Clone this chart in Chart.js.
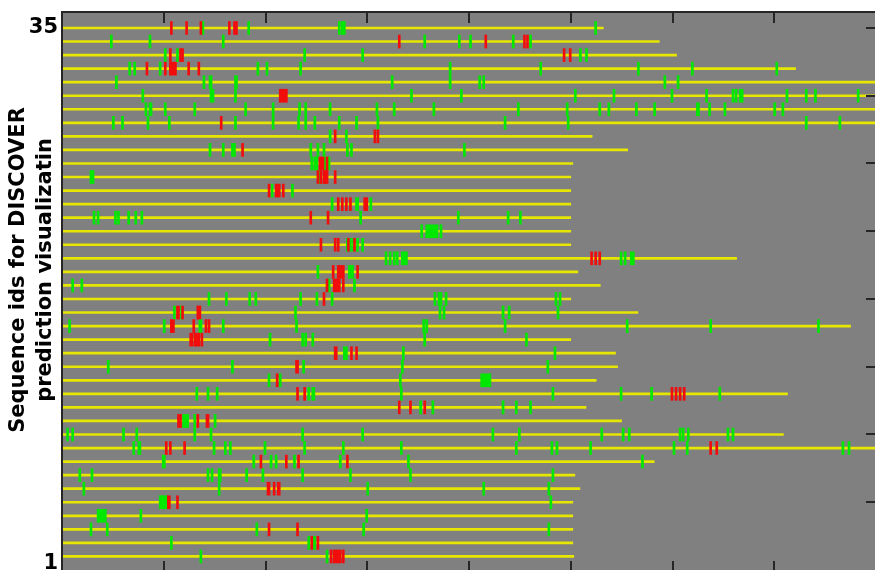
<!DOCTYPE html>
<html>
<head>
<meta charset="utf-8">
<script src="https://cdn.jsdelivr.net/npm/chart.js@4/dist/chart.umd.min.js"></script>
<style>
  html, body { margin: 0; padding: 0; background: #ffffff; overflow: hidden; }
  #wrap { width: 877px; height: 578px; }
</style>
</head>
<body>
<div id="wrap"><canvas id="c" width="877" height="578"></canvas></div>
<script>
// Sequence lengths (residues), sequence 1 at the bottom up to 40 at the top
const seqLengths = [503, 502, 502, 502, 502, 509, 504, 582, 800, 709,
                    550, 515, 713, 525, 546, 544, 500, 775, 566, 500,
                    529, 507, 663, 500, 500, 500, 500, 500, 500, 502,
                    556, 521, 800, 800, 800, 800, 721, 604, 587, 532];

// Predicted sites per sequence: a number is a single residue, a pair is a span
const greenSites = [
  [136, 260],
  [107, 242, [247, 249]],
  [28, 44, 191, 296, 478],
  [35, [37, 43], [77, 78], 299],
  [96, 98, [99, 103], 480],
  [21, 154, 300, 414, 478],
  [17, 29, 143, 147, [154, 156], 181, 197, 236, 283, 342, 482],
  [[99, 101], 188, 205, 210, 228, 273, 340, 570],
  [70, [75, 77], 149, 160, 165, 199, 238, 276, 333, 446, 481, 486, 519, 601, 614, 767, 773],
  [5, 10, 60, 73, 130, 146, 236, 295, 423, 449, 530, 551, 557, 607, 610, 615, 654, 659],
  [119, [121, 124], 130, 150],
  [352, 364, 433, 446, 460],
  [132, 143, 152, 242, [246, 248], 333, 482, 549, 579, 646],
  [203, 214, 332, [412, 421]],
  [45, 167, 237, 334, 477],
  [[277, 280], 335, 484],
  [204, 236, 239, 246, 356, 456],
  [7, 100, [135, 137], 158, 230, 355, 358, 435, 555, 637, 743],
  [110, 117, 229, 371, 375, 433, 439, 487],
  [144, 161, 184, 190, 234, 250, 265, 366, 370, 372, 377, 485, 489],
  [10, 19, 262, 287],
  [251, [282, 286]],
  [318, 322, 326, 329, [334, 339], 549, 553, [559, 562]],
  [280, 283, 286, 290, 295],
  [353, [358, 369], 372],
  [31, 35, 52, 55, 65, 72, 78, 293, 389, 438, 450],
  [265, [289, 291], 303],
  [206, 226],
  [[28, 31], 252],
  [245, 248, 250, 258, 262],
  [145, 158, 167, 169, 244, 251, 257, 280, 284, 395],
  [263, 279],
  [50, 59, 84, 105, 170, 207, 232, 239, 248, 272, 289, 310, 435, 497, 731, 764],
  [82, [86, 88], 101, 130, 180, 207, 233, 239, 263, 309, 326, 365, 448, 496, 528, 537, 564, 582, [624, 626], 636, 651, 700, 708],
  [79, 146, 148, 170, 343, 392, 504, 542, 599, 633, 659, 662, 666, 668, 712, 731, 740, 782],
  [53, 139, [145, 147], [170, 172], 324, 381, 410, 414, 592, 605],
  [66, 71, 96, 192, 201, 234, 381, 470, 566, 619, 702],
  [101, 113, 238, 295, 509, 515],
  [48, 86, 158, 356, 390, 401, 443, 460],
  [138, 183, 272, 275, 277, 524]
];

const redSites = [
  [264, [267, 274], 276],
  [245, 251],
  [203, 231],
  [],
  [[104, 106], 113],
  [[202, 204], 208, [212, 214]],
  [],
  [195, 220, 232, 280],
  [102, 106, 120, 637, 643],
  [],
  [114, 116, 133, [142, 144]],
  [331, 342, 356],
  [231, 238, 599, 603, 607, 611],
  [211],
  [[230, 232]],
  [[268, 270], 284, 289],
  [[126, 128], 130, 132, 134, 137],
  [[107, 110], 129, 141, 144],
  [[113, 115], 118, 133, [134, 136]],
  [257],
  [260, [267, 273], 276],
  [266, [271, 277], 290],
  [520, 524, 528],
  [254, 268, 271, 281, 287],
  [],
  [244, 261],
  [271, 275, 279, 283, 297, 299],
  [203, 210, [212, 214], 217],
  [251, 254, 257, [258, 261], 268],
  [253, [255, 257], 260],
  [177],
  [268, 307, 310],
  [156],
  [],
  [[214, 221]],
  [],
  [83, 101, 106, [108, 112], 124, 134],
  [106, 116, 118, 493, 499],
  [331, 416, 454, 457],
  [107, 122, 136, 164, 169, 171]
];

// Axis ticks
const xTickValues = [100, 200, 300, 400, 500, 600, 700];
const rightTickValues = [5, 10, 15, 20, 25, 30, 35, 40];
const yTickAt = [40, 0.45];
const yTickText = ['35', '1'];
const yTitle = ['Sequence ids for DISCOVER', 'prediction visualizatin'];

function siteBars(sites) {
  const out = [];
  sites.forEach((list, i) => {
    list.forEach(s => {
      const span = Array.isArray(s) ? s : [s, s];
      out.push({ y: i + 1, x: [span[0] - 0.5, span[1] + 0.5] });
    });
  });
  return out;
}

const lineBars = seqLengths.map((len, i) => ({ y: i + 1, x: [0, len] }));

// Gray plot panel, frame and inward ticks, rotated axis title
const framePlugin = {
  id: 'frame',
  beforeDatasetsDraw(chart) {
    const { ctx, chartArea: a } = chart;
    ctx.save();
    ctx.fillStyle = '#808080';
    ctx.fillRect(a.left, a.top, a.right - a.left, a.bottom - a.top);
    ctx.restore();
  },
  afterDatasetsDraw(chart) {
    const { ctx, chartArea: a, scales } = chart;
    const x = scales.x, y = scales.y;
    ctx.save();
    ctx.strokeStyle = '#262626';
    ctx.lineWidth = 2;
    ctx.beginPath();
    ctx.moveTo(a.left, a.top); ctx.lineTo(a.right, a.top);
    ctx.moveTo(a.left, a.top - 1); ctx.lineTo(a.left, a.bottom);
    xTickValues.forEach(v => {
      const px = Math.round(x.getPixelForValue(v));
      ctx.moveTo(px, a.top); ctx.lineTo(px, a.top + 11);
      ctx.moveTo(px, a.bottom); ctx.lineTo(px, a.bottom - 9);
    });
    rightTickValues.forEach(v => {
      const py = Math.round(y.getPixelForValue(v));
      ctx.moveTo(a.right, py); ctx.lineTo(a.right - 10, py);
    });
    ctx.stroke();
    ctx.restore();
  },
  afterDraw(chart) {
    const { ctx } = chart;
    ctx.save();
    ctx.translate(19, 270);
    ctx.rotate(-Math.PI / 2);
    ctx.fillStyle = '#000000';
    ctx.font = 'bold 21px "DejaVu Sans"';
    ctx.textAlign = 'center';
    ctx.textBaseline = 'middle';
    yTitle.forEach((t, i) => ctx.fillText(t, 0, i * 27));
    ctx.restore();
  }
};

new Chart(document.getElementById('c'), {
  type: 'bar',
  data: {
    datasets: [
      {
        label: 'red sites',
        data: siteBars(redSites),
        backgroundColor: '#f20d0d',
        borderWidth: 0,
        grouped: false,
        categoryPercentage: 1,
        barPercentage: 1,
        maxBarThickness: 13,
        minBarLength: 2
      },
      {
        label: 'green sites',
        data: siteBars(greenSites),
        backgroundColor: '#00e800',
        borderWidth: 0,
        grouped: false,
        categoryPercentage: 1,
        barPercentage: 1,
        maxBarThickness: 13,
        minBarLength: 2
      },
      {
        label: 'sequences',
        data: lineBars,
        backgroundColor: '#e6e600',
        borderWidth: 0,
        grouped: false,
        categoryPercentage: 1,
        barPercentage: 1,
        maxBarThickness: 2
      }
    ]
  },
  options: {
    indexAxis: 'y',
    responsive: false,
    animation: false,
    events: [],
    layout: { padding: { top: 12, right: 1, bottom: 8, left: 0 } },
    plugins: { legend: { display: false }, tooltip: { enabled: false } },
    scales: {
      x: {
        type: 'linear',
        min: 0,
        max: 800,
        display: false,
        offset: false
      },
      y: {
        type: 'linear',
        min: 0,
        max: 41.18,
        position: 'left',
        offset: false,
        grid: { display: false, drawTicks: false, tickLength: 0, offset: false },
        border: { display: false },
        afterFit(scale) {
          scale.width = 62;
          scale.paddingTop = 0;
          scale.paddingBottom = 0;
        },
        afterBuildTicks(scale) { scale.ticks = yTickAt.map(v => ({ value: v })); },
        ticks: {
          autoSkip: false,
          padding: 4,
          color: '#000000',
          font: { family: 'DejaVu Sans', weight: 'bold', size: 21 },
          callback: (v, i) => yTickText[i]
        }
      }
    }
  },
  plugins: [framePlugin]
});
</script>
</body>
</html>
